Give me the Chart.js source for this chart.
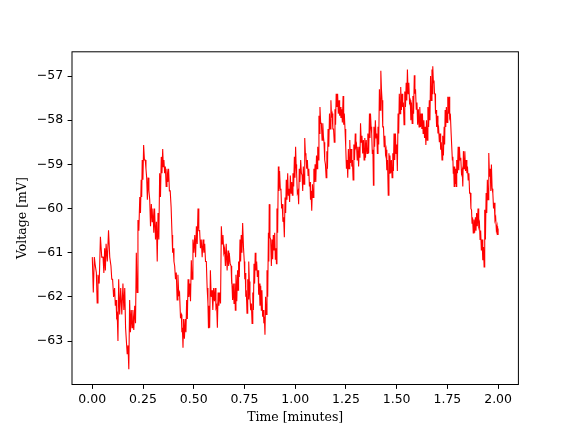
<!DOCTYPE html>
<html>
<head>
<meta charset="utf-8">
<style>
  html, body { margin: 0; padding: 0; background: #fff; }
  canvas { display: block; }
</style>
<script src="https://cdn.jsdelivr.net/npm/chart.js@4/dist/chart.umd.min.js"></script>
</head>
<body>
<canvas id="voltageChart" width="576" height="432"></canvas>
<script>
// readings: time [min], upper and lower edge of the noisy band [mV]
const sampleTimes = [
  0.000, 0.010, 0.020, 0.028, 0.040, 0.053, 0.061, 0.068, 0.080, 0.092,
  0.100, 0.110, 0.117, 0.123, 0.130, 0.140, 0.151, 0.160, 0.168, 0.176,
  0.184, 0.192, 0.200, 0.209, 0.217, 0.225, 0.234, 0.241, 0.246, 0.253,
  0.261, 0.268, 0.275, 0.283, 0.291, 0.299, 0.307, 0.316, 0.324, 0.332,
  0.340, 0.347, 0.353, 0.360, 0.368, 0.376, 0.384, 0.393, 0.399, 0.406,
  0.414, 0.422, 0.430, 0.439, 0.444, 0.450, 0.458, 0.465, 0.472, 0.480,
  0.488, 0.496, 0.505, 0.513, 0.521, 0.529, 0.537, 0.546, 0.554, 0.562,
  0.570, 0.575, 0.582, 0.590, 0.598, 0.606, 0.613, 0.620, 0.628, 0.636,
  0.644, 0.652, 0.660, 0.669, 0.675, 0.684, 0.688, 0.695, 0.702, 0.708,
  0.716, 0.721, 0.728, 0.734, 0.741, 0.749, 0.754, 0.759, 0.766, 0.771,
  0.777, 0.784, 0.791, 0.797, 0.803, 0.810, 0.817, 0.823, 0.830, 0.836,
  0.843, 0.848, 0.854, 0.861, 0.868, 0.872, 0.879, 0.886, 0.892, 0.899,
  0.905, 0.910, 0.917, 0.923, 0.930, 0.936, 0.943, 0.950, 0.956, 0.963,
  0.969, 0.976, 0.983, 0.989, 0.996, 1.002, 1.007, 1.014, 1.020, 1.027,
  1.034, 1.040, 1.047, 1.053, 1.060, 1.067, 1.073, 1.078, 1.085, 1.092,
  1.098, 1.105, 1.111, 1.117, 1.122, 1.129, 1.136, 1.142, 1.149, 1.156,
  1.162, 1.169, 1.176, 1.182, 1.189, 1.196, 1.202, 1.209, 1.216, 1.222,
  1.229, 1.236, 1.242, 1.249, 1.256, 1.262, 1.269, 1.276, 1.282, 1.289,
  1.296, 1.302, 1.309, 1.316, 1.322, 1.329, 1.336, 1.343, 1.350, 1.358,
  1.366, 1.371, 1.377, 1.383, 1.388, 1.395, 1.402, 1.408, 1.415, 1.422,
  1.428, 1.435, 1.442, 1.448, 1.455, 1.462, 1.467, 1.474, 1.481, 1.487,
  1.494, 1.500, 1.507, 1.513, 1.520, 1.527, 1.533, 1.540, 1.547, 1.553,
  1.560, 1.567, 1.573, 1.580, 1.587, 1.593, 1.600, 1.607, 1.614, 1.621,
  1.627, 1.634, 1.641, 1.647, 1.654, 1.661, 1.667, 1.674, 1.678, 1.684,
  1.689, 1.694, 1.700, 1.707, 1.714, 1.720, 1.727, 1.734, 1.739, 1.745,
  1.752, 1.758, 1.765, 1.772, 1.777, 1.781, 1.786, 1.791, 1.796, 1.803,
  1.809, 1.816, 1.823, 1.829, 1.836, 1.843, 1.849, 1.856, 1.863, 1.869,
  1.874, 1.881, 1.888, 1.894, 1.901, 1.908, 1.914, 1.921, 1.928, 1.934,
  1.941, 1.947, 1.954, 1.961, 1.967, 1.974, 1.981, 1.988, 1.995, 2.000
];

const upperMv = [
  -61.10, -61.10, -61.45, -61.50, -60.64, -61.10, -60.90, -60.80, -60.49, -61.30,
  -61.60, -61.80, -62.07, -62.40, -61.60, -61.80, -61.70, -61.80, -63.00, -63.10,
  -62.07, -62.30, -62.30, -62.20, -61.00, -60.26, -59.74, -59.35, -58.90, -58.56,
  -58.90, -59.30, -59.30, -59.80, -59.90, -60.00, -60.00, -60.30, -60.10, -59.20,
  -58.83, -58.65, -58.90, -59.05, -59.10, -59.10, -59.60, -60.60, -60.90, -61.30,
  -61.45, -61.50, -61.90, -62.40, -62.70, -62.50, -62.50, -62.07, -61.60, -61.70,
  -61.17, -60.70, -60.60, -60.40, -60.00, -60.50, -60.70, -60.70, -60.80, -61.20,
  -62.15, -62.20, -61.40, -61.85, -61.80, -61.80, -62.20, -61.90, -61.90, -60.40,
  -60.60, -60.90, -60.80, -60.95, -61.00, -61.30, -61.55, -61.70, -61.70, -61.50,
  -61.40, -61.20, -60.70, -60.60, -60.33, -61.20, -61.46, -61.85, -61.60, -61.20,
  -62.00, -62.15, -61.90, -61.25, -61.00, -61.20, -61.40, -61.70, -61.75, -61.85,
  -62.30, -62.45, -62.00, -61.40, -60.55, -59.90, -60.70, -60.70, -60.60, -60.55,
  -60.90, -60.00, -59.05, -59.15, -59.60, -59.90, -60.20, -59.75, -59.35, -59.20,
  -59.55, -59.25, -59.40, -59.20, -58.83, -58.60, -59.20, -59.60, -59.10, -58.90,
  -59.25, -59.05, -58.40, -58.80, -58.90, -59.10, -59.40, -59.60, -59.45, -59.10,
  -59.00, -58.80, -58.60, -57.90, -57.70, -58.07, -58.07, -58.50, -59.00, -58.70,
  -58.20, -57.85, -57.55, -57.85, -58.20, -57.75, -57.40, -57.40, -57.55, -57.70,
  -57.75, -57.45, -57.85, -58.60, -58.90, -58.65, -58.45, -58.65, -58.90, -58.55,
  -58.30, -58.55, -58.60, -58.60, -58.07, -58.35, -58.45, -58.40, -58.45, -58.30,
  -57.85, -57.85, -58.30, -58.67, -58.15, -58.00, -58.30, -58.15, -57.30, -56.88,
  -57.55, -58.15, -58.35, -58.67, -58.90, -58.75, -58.80, -58.90, -58.75, -58.30,
  -58.30, -58.55, -57.85, -57.40, -57.25, -57.40, -57.60, -57.35, -57.15, -56.85,
  -57.15, -57.55, -57.60, -57.45, -56.98, -57.30, -57.60, -57.75, -57.70, -57.85,
  -57.85, -58.00, -58.15, -58.00, -57.70, -57.55, -57.00, -56.85, -56.78, -57.10,
  -57.40, -57.77, -57.90, -58.20, -58.30, -58.50, -58.35, -58.15, -57.77, -57.70,
  -57.47, -57.47, -57.90, -58.30, -58.83, -59.05, -59.05, -59.10, -58.90, -58.60,
  -58.60, -58.85, -59.13, -58.70, -58.70, -58.90, -59.05, -59.20, -59.65, -60.03,
  -60.20, -60.25, -60.20, -60.10, -60.00, -60.33, -60.50, -60.70, -60.87, -60.03,
  -59.65, -59.35, -58.74, -59.10, -59.00, -59.65, -59.87, -60.20, -60.40, -60.45
];

const lowerMv = [
  -61.90, -61.30, -62.14, -61.70, -61.10, -61.46, -61.40, -61.20, -61.10, -61.60,
  -62.00, -62.20, -62.45, -63.00, -62.40, -62.40, -62.30, -62.70, -63.30, -63.64,
  -62.80, -62.70, -62.75, -62.60, -61.90, -60.50, -60.10, -59.74, -59.35, -58.90,
  -59.10, -59.80, -59.60, -60.40, -60.30, -60.55, -60.70, -61.20, -60.70, -59.74,
  -59.20, -59.05, -59.20, -59.50, -59.40, -59.60, -59.97, -61.00, -61.20, -61.60,
  -62.07, -61.95, -62.45, -62.80, -63.15, -62.95, -62.80, -62.50, -62.00, -62.10,
  -61.60, -61.00, -61.10, -60.80, -60.50, -60.90, -61.10, -61.00, -61.20, -61.80,
  -62.70, -62.70, -62.00, -62.30, -62.10, -62.25, -62.70, -62.20, -62.15, -60.80,
  -61.00, -61.30, -61.40, -61.30, -61.25, -61.70, -62.07, -62.15, -62.30, -62.10,
  -61.85, -61.55, -61.20, -61.00, -60.87, -61.60, -62.00, -62.37, -62.05, -61.65,
  -62.30, -62.60, -62.30, -61.70, -61.40, -61.55, -61.95, -62.20, -62.30, -62.45,
  -62.60, -62.86, -62.40, -62.00, -61.20, -60.65, -61.30, -61.15, -60.95, -61.15,
  -61.25, -60.55, -59.60, -59.55, -60.00, -60.30, -60.65, -60.10, -59.80, -59.70,
  -59.85, -59.65, -59.70, -59.50, -59.30, -59.00, -59.65, -59.90, -59.40, -59.20,
  -59.60, -59.45, -58.75, -59.10, -59.25, -59.50, -59.80, -60.05, -59.75, -59.40,
  -59.40, -59.10, -58.90, -58.30, -58.07, -58.45, -58.37, -58.90, -59.30, -59.10,
  -58.60, -58.20, -57.90, -58.20, -58.50, -58.10, -57.70, -57.85, -57.90, -57.95,
  -58.05, -58.10, -58.20, -59.10, -59.30, -59.10, -58.97, -59.05, -59.35, -58.90,
  -58.60, -58.90, -59.05, -58.85, -58.50, -58.75, -58.90, -58.85, -58.75, -58.75,
  -58.40, -58.15, -58.75, -59.47, -58.60, -58.40, -58.75, -58.55, -57.77, -57.30,
  -58.15, -58.60, -58.75, -59.13, -59.70, -59.20, -59.20, -59.30, -59.15, -58.90,
  -58.75, -59.15, -58.30, -57.85, -57.77, -57.70, -58.10, -57.70, -57.55, -57.40,
  -57.60, -58.00, -58.07, -57.85, -57.40, -57.75, -58.10, -58.15, -58.15, -58.20,
  -58.30, -58.40, -58.56, -58.45, -58.15, -58.00, -57.55, -57.40, -57.15, -57.40,
  -57.85, -58.15, -58.30, -58.50, -58.67, -58.90, -58.80, -58.55, -58.15, -58.05,
  -57.85, -57.95, -58.30, -58.90, -59.20, -59.50, -59.43, -59.50, -59.20, -59.13,
  -58.90, -59.20, -59.50, -59.10, -59.15, -59.20, -59.35, -59.65, -60.00, -60.33,
  -60.55, -60.55, -60.50, -60.40, -60.40, -60.70, -60.95, -61.17, -61.32, -60.70,
  -60.10, -59.80, -59.28, -59.60, -59.55, -60.00, -60.26, -60.50, -60.60, -60.60
];

const xTicks = [0, 0.25, 0.5, 0.75, 1, 1.25, 1.5, 1.75, 2];
const yTicks = [-63, -62, -61, -60, -59, -58, -57];

// zig-zag between the upper and lower edge so the thin line fills the band
function buildTrace() {
  const points = [];
  for (let i = 0; i < sampleTimes.length; i++) {
    const t = sampleTimes[i];
    const next = i + 1 < sampleTimes.length ? sampleTimes[i + 1] : t;
    points.push({ x: t, y: upperMv[i] });
    points.push({ x: (t + next) / 2, y: lowerMv[i] });
  }
  return points;
}

const frame = {
  id: 'frame',
  afterDraw(chart) {
    const { ctx, chartArea } = chart;
    ctx.save();
    ctx.strokeStyle = '#000';
    ctx.lineWidth = 1;
    ctx.strokeRect(chartArea.left, chartArea.top,
      chartArea.right - chartArea.left, chartArea.bottom - chartArea.top);
    ctx.restore();
  }
};

const tickFont = { family: 'DejaVu Sans', size: 12.5, lineHeight: 1.2 };
const titleFont = { family: 'DejaVu Serif', size: 12.5, lineHeight: 1.2 };
const minus = v => (v < 0 ? '\u2212' + Math.abs(v) : String(v));

const ctx = document.getElementById('voltageChart').getContext('2d');
const voltageChart = new Chart(ctx, {
  type: 'line',
  data: {
    datasets: [{
      data: buildTrace(),
      borderColor: '#ff0000',
      borderWidth: 1.1,
      pointRadius: 0,
      tension: 0,
      fill: false
    }]
  },
  options: {
    responsive: false,
    animation: false,
    parsing: false,
    layout: { padding: { left: 0, right: 57.6, top: 51.8, bottom: 0 } },
    plugins: {
      legend: { display: false },
      tooltip: { enabled: false }
    },
    scales: {
      x: {
        type: 'linear',
        min: -0.1,
        max: 2.1,
        afterBuildTicks: scale => { scale.ticks = xTicks.map(v => ({ value: v })); },
        afterFit: scale => { scale.height = 47.5; },
        border: { display: false },
        grid: { drawOnChartArea: false, drawTicks: true, tickLength: 4.4, color: '#000' },
        ticks: {
          color: '#000',
          font: tickFont,
          padding: 3,
          maxRotation: 0,
          callback: v => v.toFixed(2)
        },
        title: {
          display: true,
          text: 'Time [minutes]',
          color: '#000',
          font: titleFont,
          padding: { top: 0, bottom: 6.5 }
        }
      },
      y: {
        type: 'linear',
        min: -63.985,
        max: -56.45,
        afterBuildTicks: scale => { scale.ticks = yTicks.map(v => ({ value: v })); },
        afterFit: scale => { scale.width = 72; },
        border: { display: false },
        grid: { drawOnChartArea: false, drawTicks: true, tickLength: 4.4, color: '#000' },
        ticks: {
          color: '#000',
          font: tickFont,
          padding: 4.4,
          callback: v => minus(v)
        },
        title: {
          display: true,
          text: 'Voltage [mV]',
          color: '#000',
          font: titleFont,
          padding: { top: 15.5, bottom: 0 }
        }
      }
    }
  },
  plugins: [frame]
});
</script>
</body>
</html>
